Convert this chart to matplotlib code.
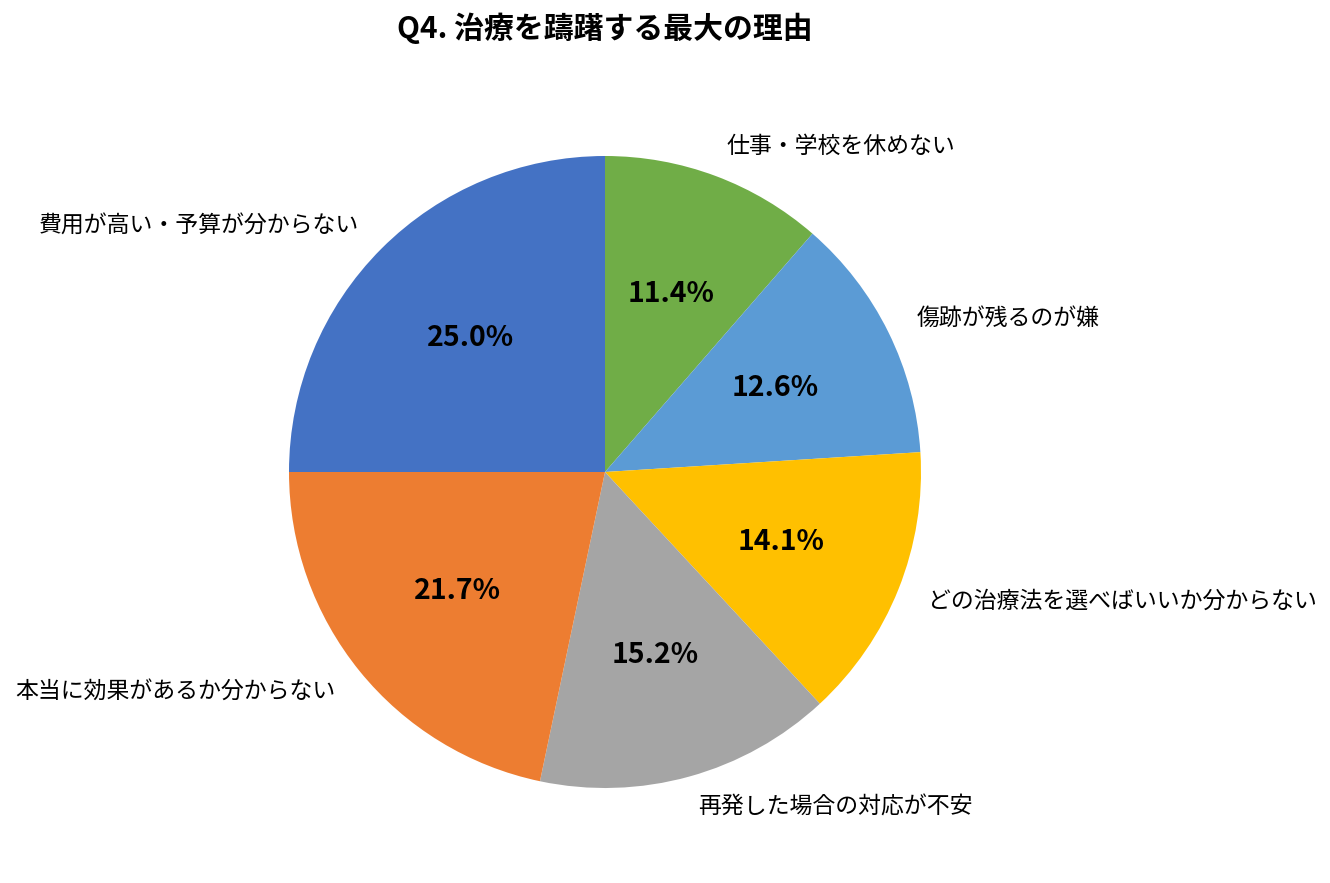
import matplotlib
matplotlib.use("Agg")
import matplotlib.pyplot as plt

plt.rcParams["font.family"] = ["Noto Sans CJK JP", "DejaVu Sans"]

# ========= DATA (clockwise from 12 o'clock) =========
labels = [
    "仕事・学校を休めない",
    "傷跡が残るのが嫌",
    "どの治療法を選べばいいか分からない",
    "再発した場合の対応が不安",
    "本当に効果があるか分からない",
    "費用が高い・予算が分からない",
]
shares = [11.4, 12.6, 14.1, 15.2, 21.7, 25.0]
colors = ["#70AD47", "#5B9BD5", "#FFC000", "#A5A5A5", "#ED7D31", "#4472C4"]
title = "Q4. 治療を躊躇する最大の理由"

W, H = 1330, 883
fig = plt.figure(figsize=(W / 100, H / 100), dpi=100)
fig.patch.set_facecolor("white")

# pie centre / radius in pixels
cx, cy, r = 605, 472, 316
ax = fig.add_axes([(cx - r) / W, (H - cy - r) / H, 2 * r / W, 2 * r / H])

wedges, texts, autotexts = ax.pie(
    shares,
    labels=labels,
    colors=colors,
    startangle=90,
    counterclock=False,
    autopct="%.1f%%",
    pctdistance=0.6,
    labeldistance=1.1,
    radius=1.0,
    wedgeprops=dict(linewidth=0),
    textprops=dict(fontsize=16.5, color="black"),
)
for t in autotexts:
    t.set_fontsize(20.5)
    t.set_fontweight("bold")
    t.set_color("black")

ax.set_xlim(-1, 1)
ax.set_ylim(-1, 1)
ax.set_aspect("equal")
ax.axis("off")

fig.text(cx / W, 1 - 28 / H, title, ha="center", va="center",
         fontsize=21.5, fontweight="bold")

fig.savefig("out.png", dpi=100, facecolor="white")
